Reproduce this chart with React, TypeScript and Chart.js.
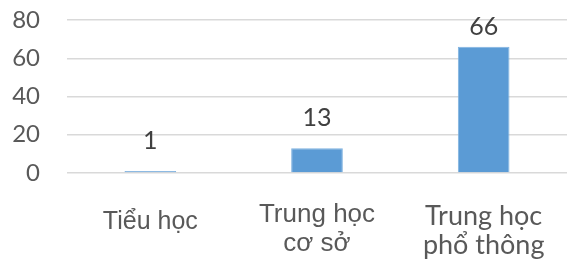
import React, { useEffect, useRef } from "react";
import { Chart, registerables } from "chart.js";

Chart.register(...registerables);

const categories: (string | string[])[] = ["Tiểu học", ["Trung học", "cơ sở"], ["Trung học", "phổ thông"]];
const values: number[] = [1, 13, 66];
const yTicks: number[] = [0, 20, 40, 60, 80];

const CALIBRI_LIKE = "Lato, 'Noto Sans', sans-serif";
const ARIAL_LIKE = "'Liberation Sans', Arial, sans-serif";

// per-category label fonts as seen in the picture
const xLabelFamilies: string[] = [ARIAL_LIKE, ARIAL_LIKE, CALIBRI_LIKE];
const xLabelSizes: number[] = [25, 26, 27];
const xLabelLineHeights: number[] = [1.7, 1.1, 1.1];

const dataLabelPlugin = {
  id: "dataLabels",
  afterDatasetsDraw(chart: any) {
    const ctx = chart.ctx;
    const meta = chart.getDatasetMeta(0);
    const area = chart.chartArea;
    ctx.save();
    ctx.font = `25px ${CALIBRI_LIKE}`;
    ctx.fillStyle = "#404040";
    ctx.textAlign = "center";
    ctx.textBaseline = "alphabetic";
    meta.data.forEach((bar: any, i: number) => {
      const y = Math.max(bar.y - 22, area.top + 15);
      ctx.fillText(String(values[i]), bar.x, y);
    });
    ctx.restore();
  },
};

export default function App() {
  const ref = useRef<HTMLCanvasElement | null>(null);
  useEffect(() => {
    document.body.style.margin = "0";
    if (!ref.current) return;
    const chart = new Chart(ref.current, {
      type: "bar",
      data: {
        labels: categories,
        datasets: [
          {
            data: values,
            backgroundColor: "#5B9BD5",
            borderColor: "#7FB2E0",
            borderWidth: 1,
            categoryPercentage: 1,
            barPercentage: 0.31,
          },
        ],
      },
      options: {
        animation: false,
        responsive: false,
        maintainAspectRatio: false,
        layout: { padding: { top: 20, right: 0, left: 0, bottom: 0 } },
        plugins: { legend: { display: false }, tooltip: { enabled: false } },
        scales: {
          x: {
            grid: { display: false },
            border: { display: false },
            ticks: {
              color: "#595959",
              font: (c: any) => ({
                family: xLabelFamilies[c.index] ?? ARIAL_LIKE,
                size: xLabelSizes[c.index] ?? 26,
                lineHeight: xLabelLineHeights[c.index] ?? 1.1,
              }),
              padding: 20,
              maxRotation: 0,
              autoSkip: false,
            },
            afterFit: (s: any) => {
              s.height = 89;
              s.paddingTop = 0;
              s.paddingBottom = 0;
            },
          },
          y: {
            min: 0,
            max: 80,
            afterBuildTicks: (s: any) => {
              s.ticks = yTicks.map((v) => ({ value: v }));
            },
            grid: { color: "#D9D9D9", lineWidth: 1.5, drawTicks: false },
            border: { display: false },
            ticks: {
              color: "#595959",
              font: { family: CALIBRI_LIKE, size: 24 },
              padding: 27,
            },
            afterFit: (s: any) => {
              s.width = 67;
              s.paddingTop = 0;
              s.paddingBottom = 0;
            },
          },
        },
      },
      plugins: [dataLabelPlugin],
    });
    return () => chart.destroy();
  }, []);
  return (
    <div style={{ width: 567, height: 262 }}>
      <canvas ref={ref} width={567} height={262} />
    </div>
  );
}
